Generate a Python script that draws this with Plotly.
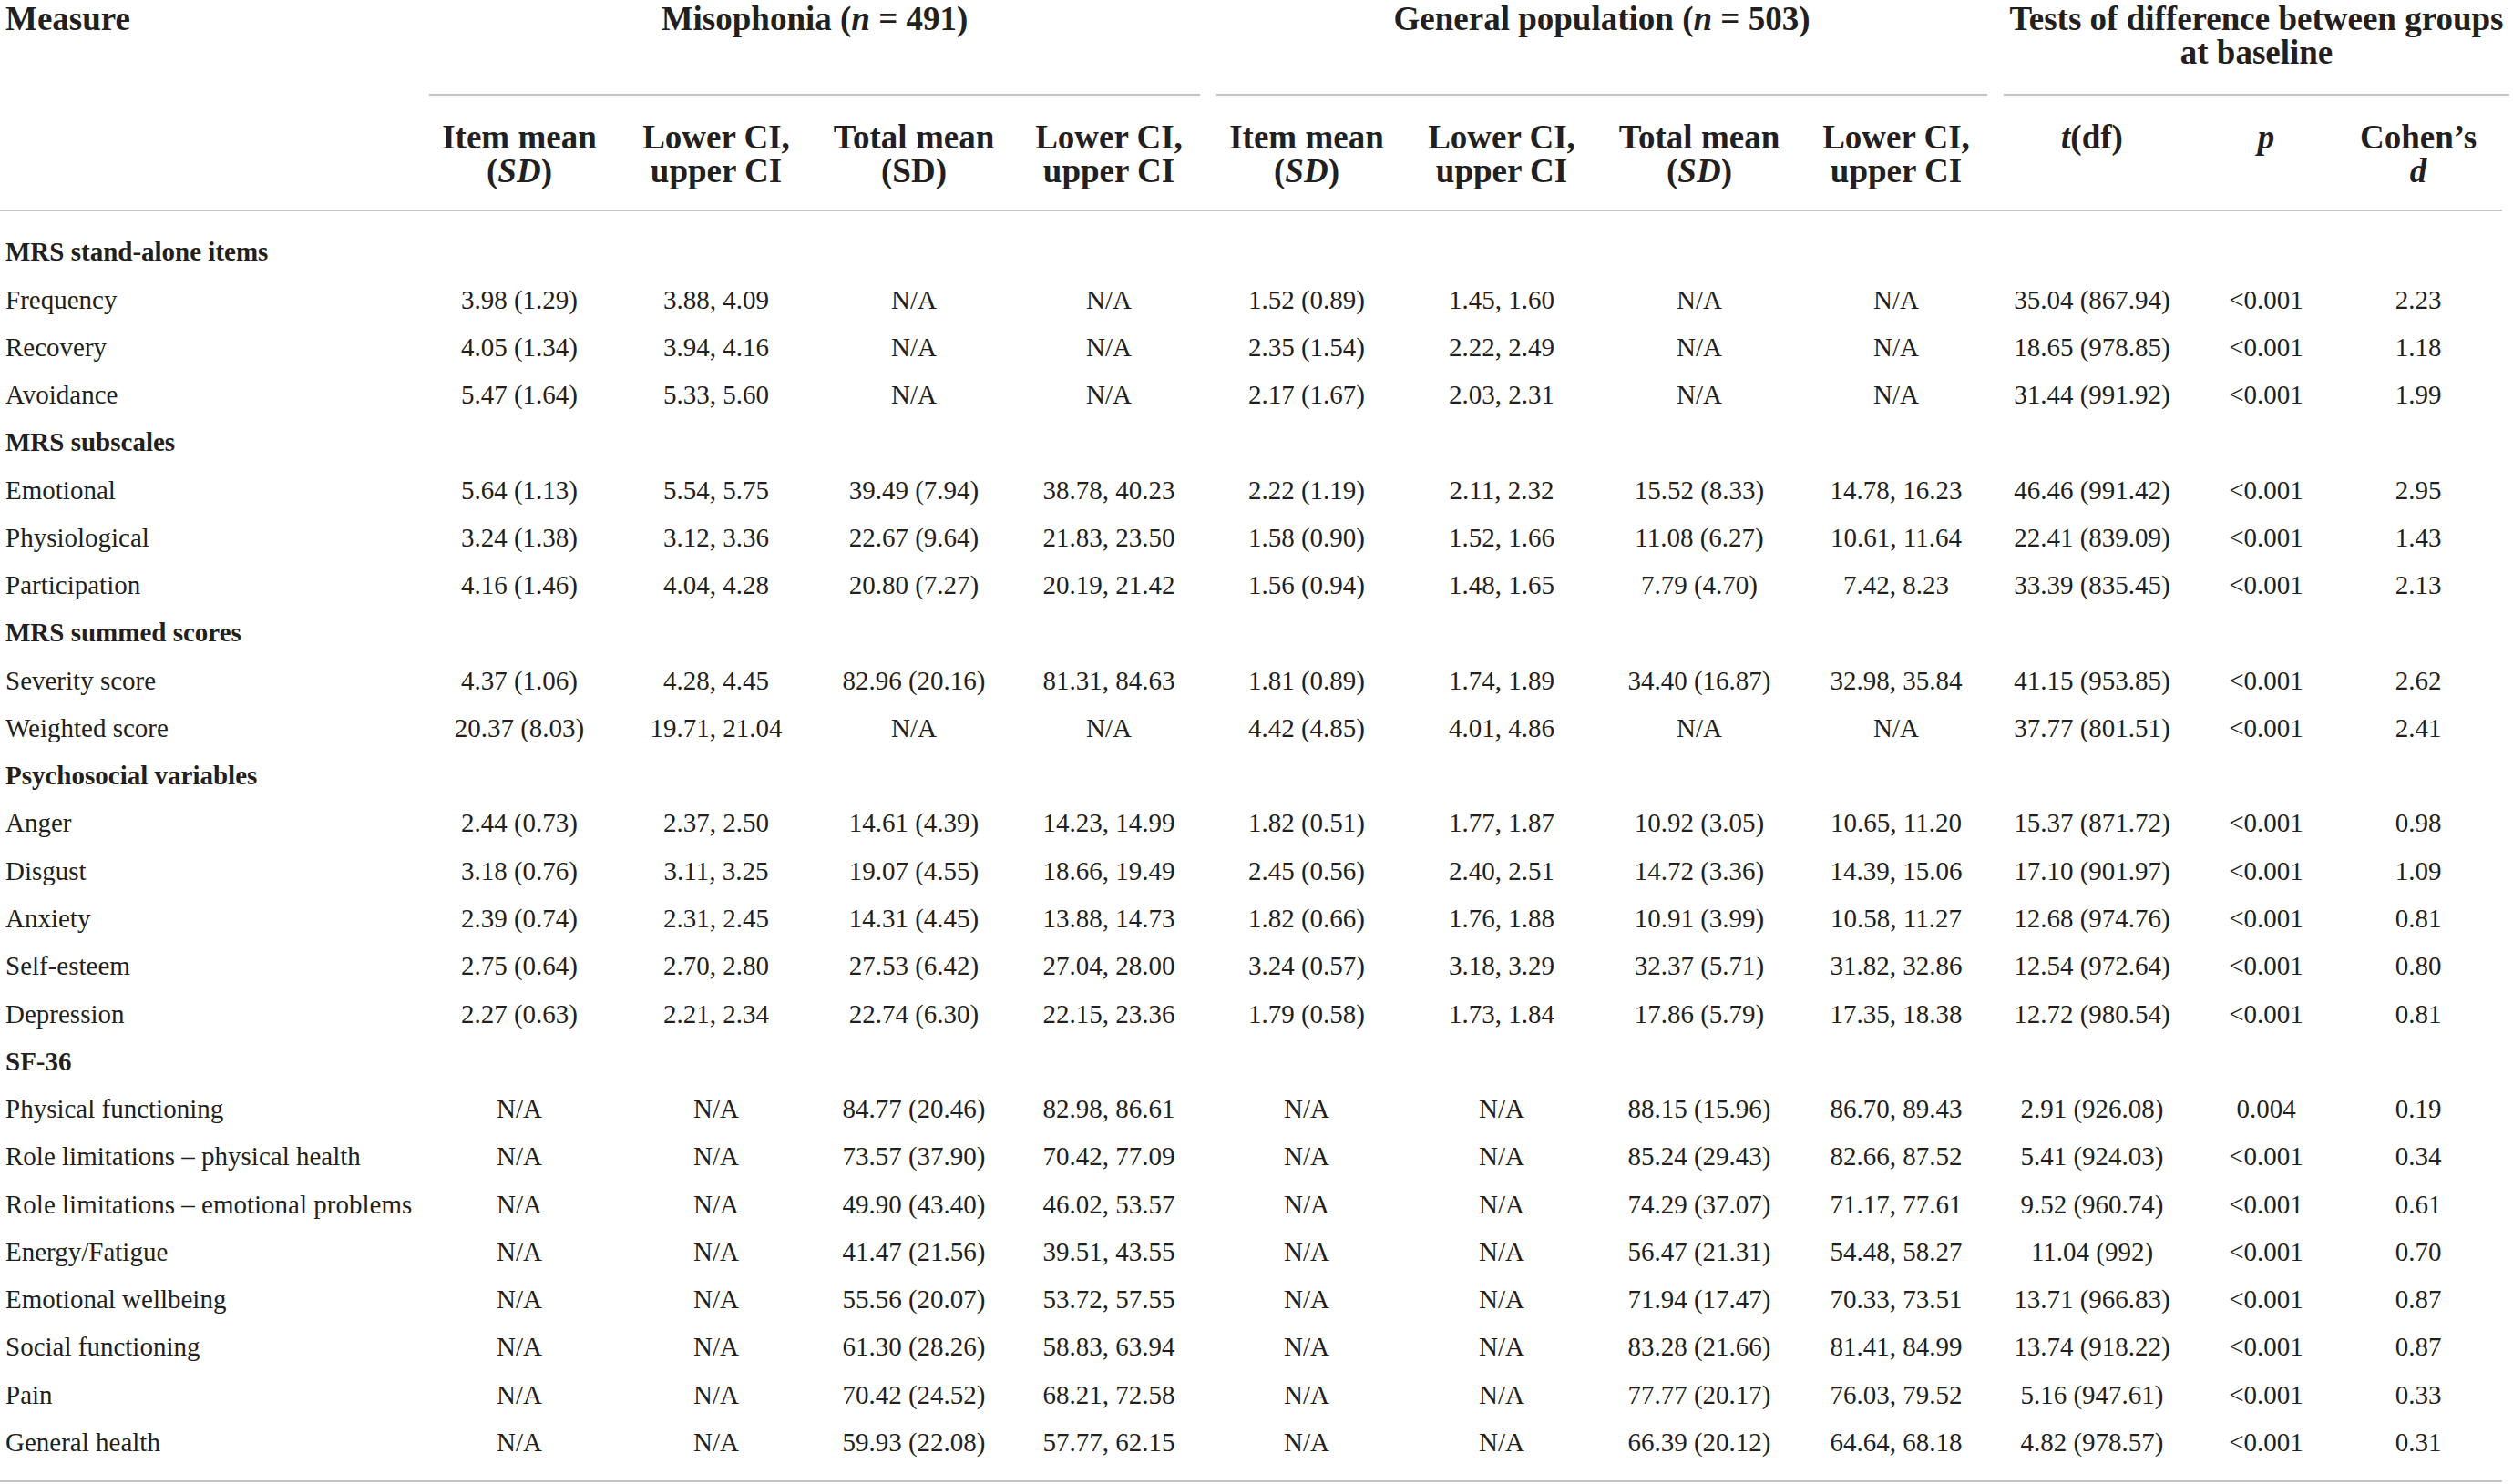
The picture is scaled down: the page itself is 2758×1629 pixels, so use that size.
import plotly.graph_objects as go

# ---------------- data ----------------
row_labels = [
    "MRS stand-alone items", "Frequency", "Recovery", "Avoidance",
    "MRS subscales", "Emotional", "Physiological", "Participation",
    "MRS summed scores", "Severity score", "Weighted score",
    "Psychosocial variables", "Anger", "Disgust", "Anxiety", "Self-esteem", "Depression",
    "SF-36", "Physical functioning", "Role limitations \u2013 physical health",
    "Role limitations \u2013 emotional problems", "Energy/Fatigue", "Emotional wellbeing",
    "Social functioning", "Pain", "General health",
]
section_labels = ["MRS stand-alone items", "MRS subscales", "MRS summed scores",
                  "Psychosocial variables", "SF-36"]

miso_item_mean = ["3.98 (1.29)", "4.05 (1.34)", "5.47 (1.64)",
                  "5.64 (1.13)", "3.24 (1.38)", "4.16 (1.46)",
                  "4.37 (1.06)", "20.37 (8.03)",
                  "2.44 (0.73)", "3.18 (0.76)", "2.39 (0.74)", "2.75 (0.64)", "2.27 (0.63)",
                  "N/A", "N/A", "N/A", "N/A", "N/A", "N/A", "N/A", "N/A"]
miso_item_ci = ["3.88, 4.09", "3.94, 4.16", "5.33, 5.60",
                "5.54, 5.75", "3.12, 3.36", "4.04, 4.28",
                "4.28, 4.45", "19.71, 21.04",
                "2.37, 2.50", "3.11, 3.25", "2.31, 2.45", "2.70, 2.80", "2.21, 2.34",
                "N/A", "N/A", "N/A", "N/A", "N/A", "N/A", "N/A", "N/A"]
miso_total_mean = ["N/A", "N/A", "N/A",
                   "39.49 (7.94)", "22.67 (9.64)", "20.80 (7.27)",
                   "82.96 (20.16)", "N/A",
                   "14.61 (4.39)", "19.07 (4.55)", "14.31 (4.45)", "27.53 (6.42)", "22.74 (6.30)",
                   "84.77 (20.46)", "73.57 (37.90)", "49.90 (43.40)", "41.47 (21.56)",
                   "55.56 (20.07)", "61.30 (28.26)", "70.42 (24.52)", "59.93 (22.08)"]
miso_total_ci = ["N/A", "N/A", "N/A",
                 "38.78, 40.23", "21.83, 23.50", "20.19, 21.42",
                 "81.31, 84.63", "N/A",
                 "14.23, 14.99", "18.66, 19.49", "13.88, 14.73", "27.04, 28.00", "22.15, 23.36",
                 "82.98, 86.61", "70.42, 77.09", "46.02, 53.57", "39.51, 43.55",
                 "53.72, 57.55", "58.83, 63.94", "68.21, 72.58", "57.77, 62.15"]
gp_item_mean = ["1.52 (0.89)", "2.35 (1.54)", "2.17 (1.67)",
                "2.22 (1.19)", "1.58 (0.90)", "1.56 (0.94)",
                "1.81 (0.89)", "4.42 (4.85)",
                "1.82 (0.51)", "2.45 (0.56)", "1.82 (0.66)", "3.24 (0.57)", "1.79 (0.58)",
                "N/A", "N/A", "N/A", "N/A", "N/A", "N/A", "N/A", "N/A"]
gp_item_ci = ["1.45, 1.60", "2.22, 2.49", "2.03, 2.31",
              "2.11, 2.32", "1.52, 1.66", "1.48, 1.65",
              "1.74, 1.89", "4.01, 4.86",
              "1.77, 1.87", "2.40, 2.51", "1.76, 1.88", "3.18, 3.29", "1.73, 1.84",
              "N/A", "N/A", "N/A", "N/A", "N/A", "N/A", "N/A", "N/A"]
gp_total_mean = ["N/A", "N/A", "N/A",
                 "15.52 (8.33)", "11.08 (6.27)", "7.79 (4.70)",
                 "34.40 (16.87)", "N/A",
                 "10.92 (3.05)", "14.72 (3.36)", "10.91 (3.99)", "32.37 (5.71)", "17.86 (5.79)",
                 "88.15 (15.96)", "85.24 (29.43)", "74.29 (37.07)", "56.47 (21.31)",
                 "71.94 (17.47)", "83.28 (21.66)", "77.77 (20.17)", "66.39 (20.12)"]
gp_total_ci = ["N/A", "N/A", "N/A",
               "14.78, 16.23", "10.61, 11.64", "7.42, 8.23",
               "32.98, 35.84", "N/A",
               "10.65, 11.20", "14.39, 15.06", "10.58, 11.27", "31.82, 32.86", "17.35, 18.38",
               "86.70, 89.43", "82.66, 87.52", "71.17, 77.61", "54.48, 58.27",
               "70.33, 73.51", "81.41, 84.99", "76.03, 79.52", "64.64, 68.18"]
t_df = ["35.04 (867.94)", "18.65 (978.85)", "31.44 (991.92)",
        "46.46 (991.42)", "22.41 (839.09)", "33.39 (835.45)",
        "41.15 (953.85)", "37.77 (801.51)",
        "15.37 (871.72)", "17.10 (901.97)", "12.68 (974.76)", "12.54 (972.64)", "12.72 (980.54)",
        "2.91 (926.08)", "5.41 (924.03)", "9.52 (960.74)", "11.04 (992)",
        "13.71 (966.83)", "13.74 (918.22)", "5.16 (947.61)", "4.82 (978.57)"]
p_vals = ["<0.001"] * 13 + ["0.004"] + ["<0.001"] * 7
cohens_d = ["2.23", "1.18", "1.99",
            "2.95", "1.43", "2.13",
            "2.62", "2.41",
            "0.98", "1.09", "0.81", "0.80", "0.81",
            "0.19", "0.34", "0.61", "0.70", "0.87", "0.87", "0.33", "0.31"]

data_columns = [miso_item_mean, miso_item_ci, miso_total_mean, miso_total_ci,
                gp_item_mean, gp_item_ci, gp_total_mean, gp_total_ci,
                t_df, p_vals, cohens_d]

group_headers = ["Misophonia (<i>n</i> = 491)", "General population (<i>n</i> = 503)",
                 "Tests of difference between groups"]
group_header_line2 = ["", "", "at baseline"]
col_header_line1 = ["Item mean", "Lower CI,", "Total mean", "Lower CI,",
                    "Item mean", "Lower CI,", "Total mean", "Lower CI,",
                    "<i>t</i>(df)", "<i>p</i>", "Cohen\u2019s"]
col_header_line2 = ["(<i>SD</i>)", "upper CI", "(SD)", "upper CI",
                    "(<i>SD</i>)", "upper CI", "(<i>SD</i>)", "upper CI",
                    "", "", "<i>d</i>"]

# ---------------- layout / style ----------------
W, H = 2758, 1629
FONT = "Liberation Serif"
TXT = "#231f20"
RULE = "#c4c4c4"
BODY = 29
HEAD = 37
col_centers = [570, 786, 1003, 1217, 1434, 1648, 1865, 2081, 2296, 2487, 2654]
group_spans = [(471, 1317), (1335, 2181), (2199, 2754)]
label_x = 6
row0_y, row_pitch = 279, 52.27
y_group1, y_group2 = 24, 61
y_head1, y_head2 = 154, 191
y_group_rule, y_head_rule, y_bottom_rule = 104, 231, 1626

row_y = [row0_y + i * row_pitch for i in range(len(row_labels))]
data_row_y = [y for lab, y in zip(row_labels, row_y) if lab not in section_labels]

fig = go.Figure()


def add_text(xs, ys, texts, size, pos="middle center"):
    fig.add_trace(go.Scatter(
        x=xs, y=ys, text=texts, mode="text", textposition=pos,
        textfont=dict(family=FONT, size=size, color=TXT),
        hoverinfo="skip", showlegend=False, cliponaxis=False))


# row labels
add_text([label_x] * len(row_labels), row_y,
         [f"<b>{lab}</b>" if lab in section_labels else lab for lab in row_labels],
         BODY, "middle right")

# data columns
for cx, col in zip(col_centers, data_columns):
    add_text([cx] * len(col), data_row_y, col, BODY)

# header: Measure
add_text([label_x], [y_group1], ["<b>Measure</b>"], HEAD, "middle right")

# group headers
g_cx = [(a + b) / 2 for a, b in group_spans]
add_text(g_cx, [y_group1] * 3, [f"<b>{t}</b>" for t in group_headers], HEAD)
add_text([g_cx[i] for i, t in enumerate(group_header_line2) if t],
         [y_group2 for t in group_header_line2 if t],
         [f"<b>{t}</b>" for t in group_header_line2 if t], HEAD)

# column headers
add_text(col_centers, [y_head1] * len(col_centers),
         [f"<b>{t}</b>" for t in col_header_line1], HEAD)
add_text([c for c, t in zip(col_centers, col_header_line2) if t],
         [y_head2 for t in col_header_line2 if t],
         [f"<b>{t}</b>" for t in col_header_line2 if t], HEAD)

# rules
shapes = []
for a, b in group_spans:
    shapes.append(dict(type="line", xref="x", yref="y", x0=a, x1=b,
                       y0=y_group_rule, y1=y_group_rule, line=dict(color=RULE, width=2)))
for yy in (y_head_rule, y_bottom_rule):
    shapes.append(dict(type="line", xref="x", yref="y", x0=0, x1=2746,
                       y0=yy, y1=yy, line=dict(color=RULE, width=2)))

fig.update_layout(
    width=W, height=H, margin=dict(l=0, r=0, t=0, b=0),
    paper_bgcolor="white", plot_bgcolor="white",
    xaxis=dict(range=[0, W], visible=False, fixedrange=True),
    yaxis=dict(range=[H, 0], visible=False, fixedrange=True),
    shapes=shapes,
)

# the page's default 8px body margin would shift the whole table; remove it
fig.write_html("out.html", config={"displayModeBar": False},
               post_script="document.body.style.margin='0px';")
